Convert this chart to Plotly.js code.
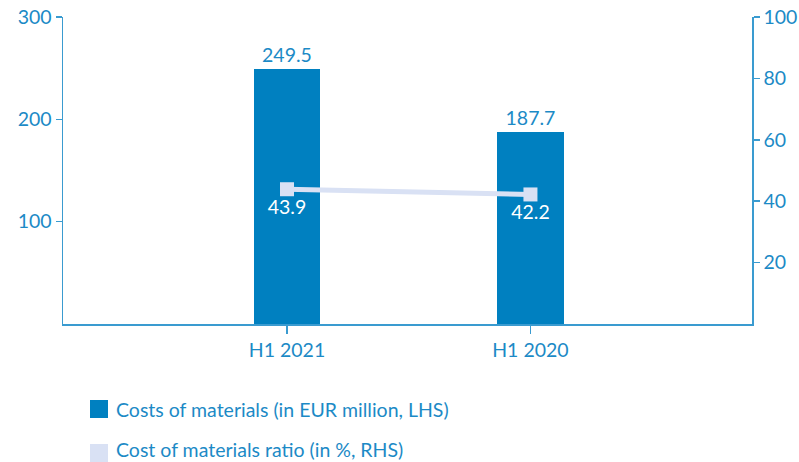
<!DOCTYPE html>
<html>
<head>
<meta charset="utf-8">
<script src="https://cdn.plot.ly/plotly-3.0.1.min.js"></script>
<style>html,body{margin:0;padding:0;background:#fff;}#chart{width:799px;height:462px;}</style>
</head>
<body>
<div id="chart"></div>
<script>
const categories = ["H1 2021", "H1 2020"];
const costsOfMaterials = [249.5, 187.7];
const materialsRatio = [43.9, 42.2];
const leftTicks = [100, 200, 300];
const rightTicks = [20, 40, 60, 80, 100];
const legendLabels = ["Costs of materials (in EUR million, LHS)", "Cost of materials ratio (in %, RHS)"];

const barColor = "#0080C0";
const lineColor = "#D9E1F4";
const textColor = "#1C8AC6";
const axisColor = "#3A9BD0";
const fontFam = "Lato, 'Open Sans', sans-serif";
const fs = 19.5;

const traces = [
  {
    type: "bar", x: categories, y: costsOfMaterials, yaxis: "y",
    marker: {color: barColor}, width: 0.272,
    text: costsOfMaterials.map(v => v.toFixed(1)), textposition: "outside",
    textfont: {color: textColor, size: fs, family: fontFam},
    cliponaxis: false, showlegend: false, hoverinfo: "skip"
  },
  {
    type: "scatter", mode: "lines+markers+text", x: categories, y: materialsRatio, yaxis: "y2",
    line: {color: lineColor, width: 5},
    marker: {color: lineColor, symbol: "square", size: 14},
    text: materialsRatio.map(v => v.toFixed(1)), textposition: "bottom center",
    textfont: {color: "#ffffff", size: fs, family: fontFam},
    cliponaxis: false, showlegend: false, hoverinfo: "skip"
  }
];

const legendColors = [barColor, lineColor];

const layout = {
  width: 799, height: 462,
  margin: {l: 63, r: 47, t: 17, b: 138},
  paper_bgcolor: "#fff", plot_bgcolor: "#fff",
  font: {family: fontFam, color: textColor, size: fs},
  showlegend: false,
  bargap: 0,
  xaxis: {
    type: "category", range: [-0.92, 1.91],
    showline: true, linecolor: axisColor, linewidth: 1.5,
    ticks: "outside", ticklen: 8, tickcolor: axisColor, tickwidth: 1.5,
    tickfont: {size: fs, color: textColor, family: fontFam},
    showgrid: false, zeroline: false, fixedrange: true
  },
  yaxis: {
    range: [0, 300], tickvals: leftTicks,
    showline: true, linecolor: axisColor, linewidth: 1.5,
    ticks: "outside", ticklen: 6, tickcolor: axisColor, tickwidth: 1.5,
    tickfont: {size: fs, color: textColor, family: fontFam},
    showgrid: false, zeroline: false, fixedrange: true
  },
  yaxis2: {
    range: [0, 100], tickvals: rightTicks, overlaying: "y", side: "right",
    showline: true, linecolor: axisColor, linewidth: 1.5,
    ticks: "outside", ticklen: 6, tickcolor: axisColor, tickwidth: 1.5,
    tickfont: {size: fs, color: textColor, family: fontFam},
    showgrid: false, zeroline: false, fixedrange: true
  },
  shapes: [
    {type: "rect", xref: "paper", yref: "paper", x0: (90-63)/689, x1: (108-63)/689,
      y0: (324-418)/307, y1: (324-400)/307, line: {width: 0}, fillcolor: legendColors[0]},
    {type: "rect", xref: "paper", yref: "paper", x0: (90-63)/689, x1: (108-63)/689,
      y0: (324-462)/307, y1: (324-444)/307, line: {width: 0}, fillcolor: legendColors[1]}
  ],
  annotations: [
    {xref: "paper", yref: "paper", x: (114-63)/689, y: (324-409)/307, xanchor: "left", yanchor: "middle",
      text: legendLabels[0], showarrow: false, font: {size: fs, color: textColor, family: fontFam}},
    {xref: "paper", yref: "paper", x: (114-63)/689, y: (324-449)/307, xanchor: "left", yanchor: "middle",
      text: legendLabels[1], showarrow: false, font: {size: fs, color: textColor, family: fontFam}}
  ]
};

Plotly.newPlot("chart", traces, layout, {displayModeBar: false, staticPlot: true});
</script>
</body>
</html>
